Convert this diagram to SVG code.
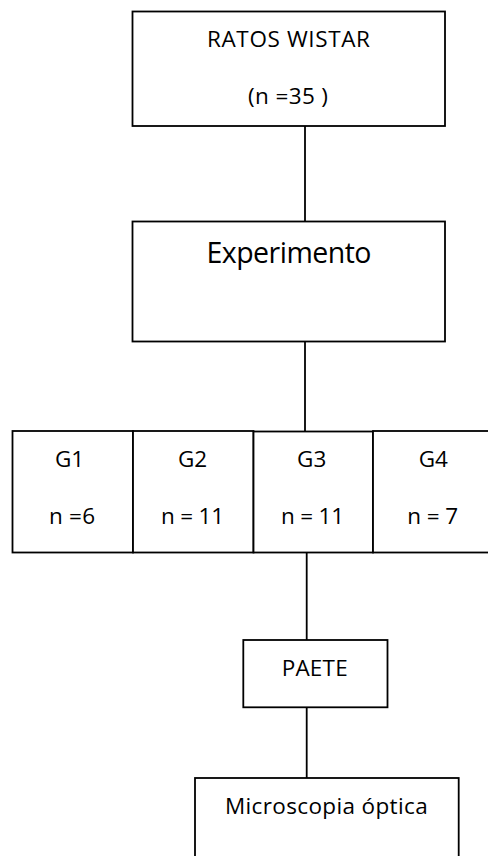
<svg xmlns="http://www.w3.org/2000/svg" width="488" height="856" viewBox="0 0 488 856">
<style>
.box{fill:#fff;stroke:#000;stroke-width:1.8}
.ln{stroke:#000;stroke-width:1.8;fill:none}
text{font-family:"Open Sans","Liberation Sans",Arial,sans-serif;fill:#000;text-anchor:middle;font-size:22.5px}
</style>
<rect width="488" height="856" fill="#fff"/>
<g id="connectors">
<line class="ln" x1="305" y1="126" x2="305" y2="222"/>
<line class="ln" x1="305" y1="342" x2="305" y2="431"/>
<line class="ln" x1="306.7" y1="553" x2="306.7" y2="640"/>
<line class="ln" x1="306.7" y1="707" x2="306.7" y2="778"/>
</g>
<g id="ratos">
<rect class="box" x="132.5" y="11.5" width="312.5" height="114.5"/>
<text x="288.5" y="46.5" textLength="163">RATOS WISTAR</text>
<text x="288" y="104" textLength="80">(n =35 )</text>
</g>
<g id="experimento">
<rect class="box" x="132.5" y="221.5" width="312.5" height="120"/>
<text x="289" y="262.5" textLength="165" style="font-size:28.5px">Experimento</text>
</g>
<g id="g1">
<rect class="box" x="12.5" y="431" width="120.5" height="121.5"/>
<text x="69.5" y="467.3">G1</text>
<text x="72" y="524.3" textLength="46">n =6</text>
</g>
<g id="g2">
<rect class="box" x="133" y="431" width="120.5" height="121.5"/>
<text x="192.5" y="467.3">G2</text>
<text x="192.5" y="524.3" textLength="63">n = 11</text>
</g>
<g id="g3">
<rect class="box" x="253.5" y="431.5" width="119.5" height="121"/>
<text x="311.7" y="467.3">G3</text>
<text x="312.5" y="524.3" textLength="63">n = 11</text>
</g>
<g id="g4">
<rect class="box" x="373" y="431" width="120" height="121.5"/>
<text x="433.3" y="467.3">G4</text>
<text x="432.7" y="524.3" textLength="51">n = 7</text>
</g>
<g id="paete">
<rect class="box" x="243.3" y="640" width="144.2" height="67.3"/>
<text x="314.7" y="676" textLength="66">PAETE</text>
</g>
<g id="microscopia">
<rect class="box" x="195" y="778" width="263.7" height="100"/>
<text x="326.3" y="814.3" textLength="202.7">Microscopia óptica</text>
</g>
</svg>
